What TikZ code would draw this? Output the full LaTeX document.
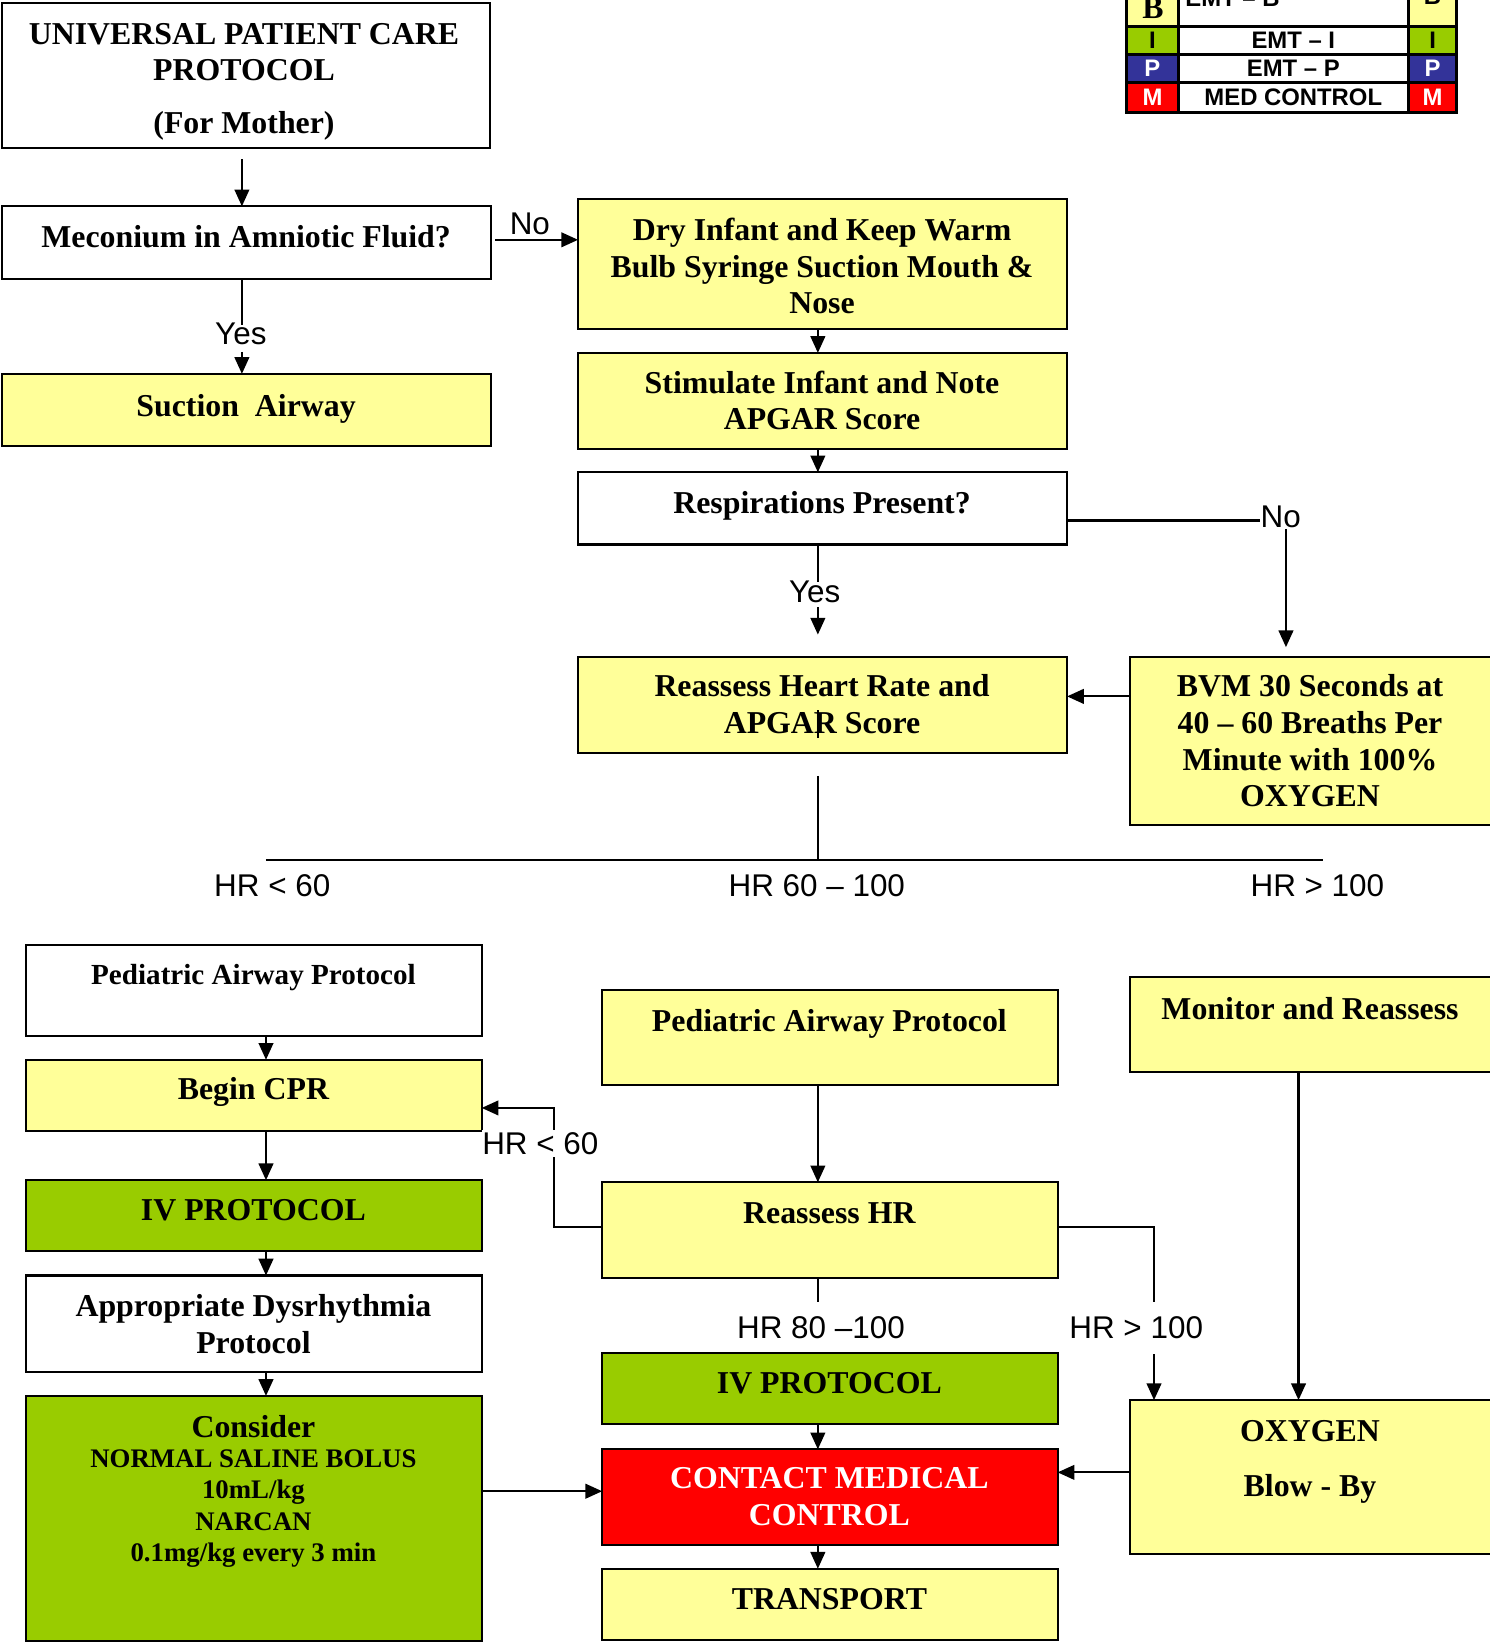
\documentclass[tikz,border=0pt]{standalone}
\usepackage{fontspec}
\setmainfont{Liberation Serif}
\setsansfont{Liberation Sans}
\usetikzlibrary{arrows.meta}
\definecolor{boxyellow}{HTML}{FFFF99}
\definecolor{boxgreen}{HTML}{99CC00}
\definecolor{boxred}{HTML}{FF0000}
\definecolor{legblue}{HTML}{333399}
\tikzset{
  box/.style={draw=black, line width=1pt, inner sep=0pt, outer sep=0pt},
  legcell/.style={draw=black, line width=1.4pt, inner sep=0pt, outer sep=0pt},
  bt/.style={font=\bfseries\fontsize{15.2}{17.5}\selectfont, align=center, inner sep=0pt},
  btsmall/.style={font=\bfseries\fontsize{12.8}{15}\selectfont, align=center, inner sep=0pt},
  legtxt/.style={font=\sffamily\bfseries\fontsize{11.4}{13}\selectfont, inner sep=0pt},
  lbl/.style={font=\sffamily\fontsize{15}{18}\selectfont, inner sep=0pt},
  arr/.style={-{Triangle[length=8pt,width=7pt]}, line width=1pt},
  ln/.style={line width=1pt},
}
\begin{document}
\begin{tikzpicture}[x=0.5pt,y=-0.5pt]
\useasboundingbox (0,0) rectangle (1422,1568);

% ---- provider level legend ----
\node[legcell,fill=boxyellow,minimum width=24.5pt,minimum height=27.5pt] (lBa) at (1100.5,-2.5) {};
\node[legcell,fill=white,minimum width=110pt,minimum height=27.5pt] (lBb) at (1235,-2.5) {};
\node[legcell,fill=boxyellow,minimum width=23pt,minimum height=27.5pt] (lBc) at (1368,-2.5) {};
\node[legcell,fill=boxgreen,minimum width=24.5pt,minimum height=13.5pt] (lIa) at (1100.5,38.5) {};
\node[legcell,fill=white,minimum width=110pt,minimum height=13.5pt] (lIb) at (1235,38.5) {};
\node[legcell,fill=boxgreen,minimum width=23pt,minimum height=13.5pt] (lIc) at (1368,38.5) {};
\node[legcell,fill=legblue,minimum width=24.5pt,minimum height=13.5pt] (lPa) at (1100.5,65.5) {};
\node[legcell,fill=white,minimum width=110pt,minimum height=13.5pt] (lPb) at (1235,65.5) {};
\node[legcell,fill=legblue,minimum width=23pt,minimum height=13.5pt] (lPc) at (1368,65.5) {};
\node[legcell,fill=boxred,minimum width=24.5pt,minimum height=14pt] (lMa) at (1100.5,93) {};
\node[legcell,fill=white,minimum width=110pt,minimum height=14pt] (lMb) at (1235,93) {};
\node[legcell,fill=boxred,minimum width=23pt,minimum height=14pt] (lMc) at (1368,93) {};
\node[bt,anchor=base] (tBa) at (1101,18) {B};
\node[legtxt,anchor=base] (tBb) at (1177,6) {EMT – B};
\node[legtxt,anchor=base] (tBc) at (1368,4) {B};
\node[legtxt] (tIa) at (lIa) {I};
\node[legtxt] (tIb) at (lIb) {EMT – I};
\node[legtxt] (tIc) at (lIc) {I};
\node[legtxt,text=white] (tPa) at (lPa) {P};
\node[legtxt] (tPb) at (lPb) {EMT – P};
\node[legtxt,text=white] (tPc) at (lPc) {P};
\node[legtxt,text=white] (tMa) at (lMa) {M};
\node[legtxt] (tMb) at (lMb) {MED CONTROL};
\node[legtxt,text=white] (tMc) at (lMc) {M};

% ---- upper flow ----
\node[box,fill=white,minimum width=233pt,minimum height=69pt] (title) at (234.5,72) {};
\node[bt] (titleT) at (233,78) {UNIVERSAL PATIENT CARE\\PROTOCOL\\[7.5pt](For Mother)};

\node[box,fill=white,minimum width=233.5pt,minimum height=34.5pt] (mec) at (235.5,231.5) {};
\node[bt] (mecT) at (235,226) {Meconium in Amniotic Fluid?};

\node[box,fill=boxyellow,minimum width=233.5pt,minimum height=34.5pt] (suction) at (235.5,391.5) {};
\node[bt] (suctionT) at (235,390) {Suction\ \ Airway};

\node[box,fill=boxyellow,minimum width=233.5pt,minimum height=62pt] (dry) at (785.5,252) {};
\node[bt] (dryT) at (785,254) {Dry Infant and Keep Warm\\Bulb Syringe Suction Mouth \&\\Nose};

\node[box,fill=boxyellow,minimum width=233.5pt,minimum height=46pt] (stim) at (785.5,383) {};
\node[bt] (stimT) at (785,382.5) {Stimulate Infant and Note\\APGAR Score};

\node[box,fill=white,minimum width=233.5pt,minimum height=34.5pt] (resp) at (785.5,485.5) {};
\node[bt] (respT) at (785,483) {Respirations Present?};

\node[box,fill=boxyellow,minimum width=233.5pt,minimum height=46pt] (reass) at (785.5,673) {};
\node[bt] (reassT) at (785,672.5) {Reassess Heart Rate and\\APGAR Score};

\node[box,fill=boxyellow,minimum width=180pt,minimum height=80.5pt] (bvm) at (1259,707.5) {};
\node[bt] (bvmT) at (1251,707.5) {BVM 30 Seconds at\\40 – 60 Breaths Per\\Minute with 100\%\\OXYGEN};

% connectors of the upper flow
\coordinate (titleOut) at (231,152);
\draw[arr] (titleOut) -- (titleOut |- mec.north);

\node[lbl] (noA) at (506,214) {No};
\coordinate (mecOut) at (473,229);
\draw[arr] (mecOut) -- (mecOut -| dry.west);

\node[lbl] (yesA) at (230,319) {Yes};
\draw[ln] (mec.south -| 231,0) -- (231,310);
\draw[arr] (231,336) -- (suction.north -| 231,0);

\coordinate (colM) at (781,0);
\draw[arr] (dry.south -| colM) -- (stim.north -| colM);
\draw[arr] (stim.south -| colM) -- (resp.north -| colM);

\node[lbl] (yesB) at (778,565) {Yes};
\draw[ln] (resp.south -| colM) -- (781,556);
\coordinate (yesBend) at (781,606);
\draw[arr] (781,580) -- (yesBend);

\node[lbl] (noB) at (1223,494) {No};
\draw[ln] ([yshift=-5.75pt]resp.east) -- ([yshift=-5.75pt]resp.east -| noB.west);
\coordinate (bvmIn) at (1228,618);
\draw[arr] (1228,505) -- (bvmIn);

\draw[arr] ([yshift=4pt]reass.east -| bvm.west) -- ([yshift=4pt]reass.east);
\draw[ln] (781,678) -- (781,705);

% heart rate branching
\coordinate (hrTop) at (781,741);
\coordinate (hrJoin) at (781,821);
\coordinate (hrLeft) at (254,821);
\coordinate (hrRight) at (1263,821);
\draw[ln] (hrTop) -- (hrJoin);
\draw[ln] (hrLeft) -- (hrRight);
\node[lbl] (hrA) at (260,846) {HR < 60};
\node[lbl] (hrB) at (780,846) {HR 60 – 100};
\node[lbl] (hrC) at (1258,846) {HR > 100};

% ---- left column ----
\node[box,fill=white,minimum width=217.5pt,minimum height=43.5pt] (pedL) at (242.5,945.5) {};
\node[bt,font=\bfseries\fontsize{13.9}{16}\selectfont] (pedLT) at (242,933) {Pediatric Airway Protocol};

\node[box,fill=boxyellow,minimum width=217.5pt,minimum height=34pt] (cpr) at (242.5,1046) {};
\node[bt] (cprT) at (242,1043) {Begin CPR};

\node[box,fill=boxgreen,minimum width=217.5pt,minimum height=34pt] (ivL) at (242.5,1161) {};
\node[bt] (ivLT) at (242,1156) {IV PROTOCOL};

\node[box,fill=white,minimum width=217.5pt,minimum height=46pt] (dys) at (242.5,1264) {};
\node[bt] (dysT) at (242,1264.5) {Appropriate Dysrhythmia\\Protocol};

\node[box,fill=boxgreen,minimum width=217.5pt,minimum height=117pt] (consider) at (242.5,1450) {};
\node[bt] (considerT) at (242,1362) {Consider};
\node[btsmall] (considerD) at (242,1440.5) {NORMAL SALINE BOLUS\\10mL/kg\\NARCAN\\0.1mg/kg every 3 min};

\coordinate (colL) at (254,0);
\draw[arr] (pedL.south -| colL) -- (cpr.north -| colL);
\draw[arr] (cpr.south -| colL) -- (ivL.north -| colL);
\draw[arr] (ivL.south -| colL) -- (dys.north -| colL);
\draw[arr] (dys.south -| colL) -- (consider.north -| colL);

% ---- middle column ----
\node[box,fill=boxyellow,minimum width=217.5pt,minimum height=45.5pt] (pedM) at (792.5,990.5) {};
\node[bt] (pedMT) at (792,978) {Pediatric Airway Protocol};

\node[box,fill=boxyellow,minimum width=217.5pt,minimum height=45.5pt] (rhr) at (792.5,1174.5) {};
\node[bt] (rhrT) at (792,1159) {Reassess HR};

\node[box,fill=boxgreen,minimum width=217.5pt,minimum height=34pt] (ivM) at (792.5,1326) {};
\node[bt] (ivMT) at (792,1321) {IV PROTOCOL};

\node[box,fill=boxred,minimum width=217.5pt,minimum height=45.5pt] (cmc) at (792.5,1429.5) {};
\node[bt,text=white] (cmcT) at (792,1429) {CONTACT MEDICAL\\CONTROL};

\node[box,fill=boxyellow,minimum width=217.5pt,minimum height=34pt] (transport) at (792.5,1532) {};
\node[bt] (transportT) at (792,1527) {TRANSPORT};

\draw[arr] (pedM.south -| colM) -- (rhr.north -| colM);
\draw[arr] (ivM.south -| colM) -- (cmc.north -| colM);
\draw[arr] (cmc.south -| colM) -- (transport.north -| colM);

% HR < 60 back to CPR
\draw[arr] ([yshift=1.25pt]rhr.west) -- (529,1172) -- (529,1058) -- (529,1058 -| cpr.east);
\node[lbl,fill=white,inner xsep=0pt,inner ysep=1pt] (hrD) at (516,1092) {HR < 60};

% HR 80 - 100
\draw[ln] (rhr.south -| colM) -- (781,1243);
\node[lbl] (hrE) at (784,1268) {HR 80 –100};

% HR > 100 to oxygen
\node[box,fill=boxyellow,minimum width=180pt,minimum height=73.5pt] (oxy) at (1259,1410.5) {};
\node[bt] (oxyT) at (1251,1396) {OXYGEN\\[8.5pt]Blow - By};
\draw[arr] ([yshift=1.25pt]rhr.east) -- (1102,1172) -- (1102,1172 |- oxy.north);
\node[lbl,fill=white,inner xsep=1pt,inner ysep=7pt] (hrF) at (1085,1268) {HR > 100};

% ---- right column ----
\node[box,fill=boxyellow,minimum width=180pt,minimum height=45.5pt] (monitor) at (1259,978.5) {};
\node[bt] (monitorT) at (1251,963) {Monitor and Reassess};
\draw[arr] (monitor.south -| 1240,0) -- (oxy.north -| 1240,0);

% into medical control
\draw[arr] ([yshift=2.75pt]cmc.west -| consider.east) -- ([yshift=2.75pt]cmc.west);
\draw[arr] ([yshift=11.75pt]cmc.east -| oxy.west) -- ([yshift=11.75pt]cmc.east);
\end{tikzpicture}
\end{document}
